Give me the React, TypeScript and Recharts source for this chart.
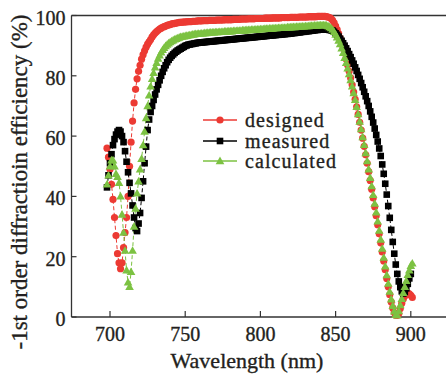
import React from 'react';
import { LineChart, Line, XAxis, YAxis, ReferenceLine, Label } from 'recharts';

// wavelength grid (nm), one row per 10 nm
const wavelengths = [
  698, 699, 700, 701, 702, 703, 704, 705, 706, 707,
  708, 709, 710, 711, 712, 713, 714, 715, 716, 717,
  718, 719, 720, 721, 722, 723, 724, 725, 726, 727,
  728, 729, 730, 731, 732, 733, 734, 735, 736, 737,
  738, 739, 740, 741, 742, 743, 744, 745, 746, 747,
  748, 749, 750, 751, 752, 753, 754, 755, 756, 757,
  758, 759, 760, 761, 762, 763, 764, 765, 766, 767,
  768, 769, 770, 771, 772, 773, 774, 775, 776, 777,
  778, 779, 780, 781, 782, 783, 784, 785, 786, 787,
  788, 789, 790, 791, 792, 793, 794, 795, 796, 797,
  798, 799, 800, 801, 802, 803, 804, 805, 806, 807,
  808, 809, 810, 811, 812, 813, 814, 815, 816, 817,
  818, 819, 820, 821, 822, 823, 824, 825, 826, 827,
  828, 829, 830, 831, 832, 833, 834, 835, 836, 837,
  838, 839, 840, 841, 842, 843, 844, 845, 846, 847,
  848, 849, 850, 851, 852, 853, 854, 855, 856, 857,
  858, 859, 860, 861, 862, 863, 864, 865, 866, 867,
  868, 869, 870, 871, 872, 873, 874, 875, 876, 877,
  878, 879, 880, 881, 882, 883, 884, 885, 886, 887,
  888, 889, 890, 891, 892, 893, 894, 895, 896, 897,
  898, 899, 900, 901,
];

const designed = [
  56, 53, 49, 44, 39, 33, 27, 21, 18, 16,
  18, 23, 28, 33, 40, 50, 58, 65, 71, 75.5,
  79, 81.5, 83.5, 85.5, 87, 88.3, 89.5, 90.5, 91.3, 92,
  92.9, 93.6, 94.2, 94.7, 95.1, 95.5, 95.8, 96.1, 96.3, 96.5,
  96.7, 96.9, 97, 97.2, 97.3, 97.4, 97.5, 97.6, 97.7, 97.7,
  97.8, 97.8, 97.9, 97.9, 98, 98, 98, 98.1, 98.1, 98.1,
  98.2, 98.2, 98.2, 98.2, 98.3, 98.3, 98.3, 98.3, 98.4, 98.4,
  98.4, 98.4, 98.4, 98.5, 98.5, 98.5, 98.5, 98.5, 98.6, 98.6,
  98.6, 98.6, 98.6, 98.6, 98.7, 98.7, 98.7, 98.7, 98.7, 98.8,
  98.8, 98.8, 98.8, 98.8, 98.9, 98.9, 98.9, 98.9, 98.9, 99,
  99, 99, 99, 99, 99, 99.1, 99.1, 99.1, 99.1, 99.1,
  99.2, 99.2, 99.2, 99.2, 99.2, 99.2, 99.3, 99.3, 99.3, 99.3,
  99.3, 99.3, 99.4, 99.4, 99.4, 99.4, 99.4, 99.4, 99.5, 99.5,
  99.5, 99.5, 99.5, 99.5, 99.6, 99.6, 99.6, 99.6, 99.6, 99.6,
  99.7, 99.7, 99.7, 99.7, 99.7, 99.7, 99.6, 99.5, 99.3, 99,
  98.4, 97.6, 96.5, 95.3, 94, 92.5, 91, 89.3, 87.5, 85.6,
  83.6, 81.5, 79.3, 77, 74.6, 72.2, 69.7, 67.2, 64.6, 62,
  59.3, 56.6, 53.8, 51, 48.2, 45.3, 42.4, 39.5, 36.6, 33.6,
  30.6, 27.6, 24.6, 21.6, 18.6, 15.7, 12.8, 10, 7.4, 5,
  3, 1.5, 0.6, 0.5, 1.2, 2.8, 4.6, 6, 7, 7.6,
  7.9, 7.7, 7.2, 6.5,
];

const measured = [
  43, 47, 51, 54, 57, 59, 60.5, 61.5, 62, 61.5,
  60, 58, 55, 51.5, 48, 44.5, 41, 37, 33, 29.5,
  28.5, 31, 34.5, 39.5, 45, 51, 56.5, 62, 65.5, 68,
  70, 72, 73.8, 75.5, 77, 78.5, 80, 81.3, 82.5, 83.5,
  84.5, 85.3, 86, 86.6, 87.1, 87.6, 88, 88.4, 88.7, 89,
  89.3, 89.6, 89.9, 90.1, 90.3, 90.4, 90.5, 90.6, 90.7, 90.8,
  90.9, 91, 91, 91.1, 91.1, 91.2, 91.2, 91.3, 91.3, 91.4,
  91.4, 91.5, 91.5, 91.6, 91.6, 91.7, 91.7, 91.8, 91.8, 91.9,
  91.9, 92, 92, 92.1, 92.1, 92.2, 92.2, 92.3, 92.3, 92.4,
  92.4, 92.5, 92.5, 92.6, 92.6, 92.7, 92.7, 92.8, 92.8, 92.9,
  92.9, 93, 93, 93.1, 93.1, 93.2, 93.2, 93.3, 93.3, 93.4,
  93.4, 93.5, 93.5, 93.6, 93.6, 93.7, 93.7, 93.8, 93.8, 93.9,
  93.9, 94, 94, 94.1, 94.2, 94.2, 94.3, 94.4, 94.4, 94.5,
  94.6, 94.6, 94.7, 94.8, 94.8, 94.9, 95, 95, 95.1, 95.2,
  95.2, 95.3, 95.3, 95.4, 95.4, 95.4, 95.4, 95.3, 95.2, 95.1,
  95, 94.6, 94.1, 93.6, 93, 92.3, 91.6, 90.8, 90, 89.1,
  88.2, 87.2, 86.2, 85.1, 84, 82.8, 81.6, 80.3, 79, 77.6,
  76.2, 74.7, 73.2, 71.6, 70, 68.2, 66.4, 64.5, 62.5, 60.4,
  58.2, 55.9, 53.4, 50.6, 47.5, 44.2, 40.6, 36.8, 32.9, 28.9,
  24.9, 21, 17.4, 14.3, 11.8, 9.9, 8.5, 7.8, 8.3, 9.5,
  11, 12.8, 14.3, null,
];

const calculated = [
  44, 47, 50, 52, 52, 50, 47.5, 46.5, 44.5, 40,
  34, 28, 22, 15.5, 11.5, 10, 15, 22, 30, 36,
  41, 45, 49, 52.5, 57, 61.5, 66, 70, 73.5, 76.5,
  79, 81, 82.8, 84.3, 85.7, 86.8, 87.8, 88.6, 89.3, 89.9,
  90.4, 90.8, 91.2, 91.5, 91.8, 92.1, 92.3, 92.5, 92.7, 92.9,
  93, 93.1, 93.2, 93.3, 93.4, 93.5, 93.6, 93.7, 93.8, 93.9,
  93.9, 94, 94, 94.1, 94.1, 94.2, 94.2, 94.3, 94.3, 94.4,
  94.4, 94.4, 94.5, 94.5, 94.5, 94.6, 94.6, 94.6, 94.7, 94.7,
  94.7, 94.8, 94.8, 94.8, 94.9, 94.9, 94.9, 95, 95, 95,
  95.1, 95.1, 95.1, 95.2, 95.2, 95.2, 95.3, 95.3, 95.3, 95.4,
  95.4, 95.4, 95.5, 95.5, 95.5, 95.6, 95.6, 95.6, 95.7, 95.7,
  95.7, 95.8, 95.8, 95.8, 95.9, 95.9, 95.9, 96, 96, 96,
  96.1, 96.1, 96.1, 96.2, 96.2, 96.2, 96.3, 96.3, 96.3, 96.4,
  96.4, 96.4, 96.5, 96.5, 96.5, 96.6, 96.6, 96.6, 96.7, 96.7,
  96.7, 96.8, 96.8, 96.8, 96.8, 96.8, 96.7, 96.5, 96.2, 95.8,
  95.3, 94.6, 93.7, 92.8, 91.7, 90.5, 89.1, 87.6, 86, 84.3,
  82.5, 80.6, 78.6, 76.5, 74.3, 72, 69.7, 67.3, 64.8, 62.3,
  59.7, 57.1, 54.4, 51.7, 49, 46.2, 43.4, 40.5, 37.6, 34.7,
  31.7, 28.7, 25.7, 22.7, 19.7, 16.8, 13.9, 11.1, 8.4, 5.9,
  3.7, 1.9, 0.7, 0.6, 2, 4, 6, 8, 10, 12,
  14, 15.5, 17, 17.8,
];

const xTicks = [700, 750, 800, 850, 900];
const yTicks = [0, 20, 40, 60, 80, 100];
const legendNames = ['designed', 'measured', 'calculated'];

const RED = '#ec3a33';
const BLACK = '#000000';
const GREEN = '#7cc242';
const AXIS = '#333333';
const TEXT = '#231f20';
const FONT = 'Liberation Serif, Times New Roman, Times, serif';

const data = wavelengths.map((wl, i) => ({
  wl,
  designed: designed[i],
  measured: measured[i],
  calculated: calculated[i],
}));

const bad = (p: any) => p.cx == null || p.cy == null || isNaN(p.cx) || isNaN(p.cy) || p.value == null;

const circleDot = (p: any) =>
  bad(p) ? <g key={`c${p.index}`} /> : <circle key={`c${p.index}`} cx={p.cx} cy={p.cy} r={3.6} fill={RED} />;

const squareDot = (p: any) =>
  bad(p) ? <g key={`s${p.index}`} /> : <rect key={`s${p.index}`} x={p.cx - 3.3} y={p.cy - 3.3} width={6.6} height={6.6} fill={BLACK} />;

const triPoints = (cx: number, cy: number) => `${cx},${cy - 4.4} ${cx + 4.3},${cy + 3.2} ${cx - 4.3},${cy + 3.2}`;

const triangleDot = (p: any) =>
  bad(p) ? <g key={`t${p.index}`} /> : <polygon key={`t${p.index}`} points={triPoints(p.cx, p.cy)} fill={GREEN} />;

// serif text a little heavier, like the original's typeface
const textStyle = { fontFamily: FONT, stroke: TEXT, strokeWidth: 0.35 };

const XTick = ({ x, y, payload }: any) => (
  <g>
    <line x1={x} x2={x} y1={y} y2={y - 6} stroke={AXIS} strokeWidth={1.2} />
    <text x={x} y={y + 24} textAnchor="middle" fontSize={20} style={textStyle} fill={TEXT}>
      {payload.value}
    </text>
  </g>
);

const YTick = ({ x, y, payload }: any) => (
  <g>
    <line x1={x} x2={x + 5} y1={y} y2={y} stroke={AXIS} strokeWidth={1.2} />
    <text x={x - 6} y={y + 9} textAnchor="end" fontSize={20} style={textStyle} fill={TEXT}>
      {payload.value}
    </text>
  </g>
);

const legendMarker = (i: number) => {
  if (i === 0) return <circle cx={20} cy={10} r={3.6} fill={RED} />;
  if (i === 1) return <rect x={16.7} y={6.7} width={6.6} height={6.6} fill={BLACK} />;
  return <polygon points={triPoints(20, 10)} fill={GREEN} />;
};

const legendColors = [RED, BLACK, GREEN];

const LegendBox = () => (
  <div style={{ position: 'absolute', left: 200, top: 110, fontFamily: FONT, color: TEXT }}>
    {legendNames.map((name, i) => (
      <div key={name} style={{ display: 'flex', alignItems: 'center', height: 20.5 }}>
        <svg width={40} height={20} style={{ display: 'block' }}>
          <line x1={3} x2={37} y1={10} y2={10} stroke={legendColors[i]} strokeWidth={1.5} />
          {legendMarker(i)}
        </svg>
        <span
          style={{
            marginLeft: 5,
            fontSize: 20,
            lineHeight: '18px',
            letterSpacing: 1.1,
            WebkitTextStroke: '0.35px #231f20',
          }}
        >
          {name}
        </span>
      </div>
    ))}
  </div>
);

export default function App() {
  return (
    <div style={{ position: 'absolute', left: 0, top: 0, width: 446, height: 377, background: '#fff' }}>
      <LineChart width={446} height={377} data={data} margin={{ top: 15.5, right: 0, bottom: 30, left: 11.5 }}>
        <XAxis
          type="number"
          dataKey="wl"
          domain={[674.4, 923.4]}
          ticks={xTicks}
          allowDataOverflow
          height={30}
          tickSize={0}
          tickMargin={0}
          tickLine={false}
          tick={<XTick />}
          axisLine={{ stroke: AXIS, strokeWidth: 1.3 }}
        >
          <Label
            content={() => (
              <text x={247} y={368} textAnchor="middle" fontSize={22} style={textStyle} fill={TEXT}>
                Wavelength (nm)
              </text>
            )}
          />
        </XAxis>
        <YAxis
          type="number"
          domain={[0, 100]}
          ticks={yTicks}
          width={60}
          tickSize={0}
          tickMargin={0}
          tickLine={false}
          tick={<YTick />}
          axisLine={{ stroke: AXIS, strokeWidth: 1.3 }}
        >
          <Label
            content={() => (
              <text
                x={27}
                y={182}
                transform="rotate(-90 27 182)"
                textAnchor="middle"
                fontSize={23}
                style={textStyle}
                fill={TEXT}
              >
                -1st order diffractioin efficiency (%)
              </text>
            )}
          />
        </YAxis>
        <ReferenceLine y={100} stroke={AXIS} strokeWidth={1.3} ifOverflow="visible" />
        <Line
          type="linear"
          dataKey="designed"
          stroke={RED}
          strokeWidth={1}
          strokeDasharray="4 2.5"
          dot={circleDot}
          activeDot={false}
          isAnimationActive={false}
        />
        <Line
          type="linear"
          dataKey="measured"
          stroke={BLACK}
          strokeWidth={1}
          strokeDasharray="4 2.5"
          dot={squareDot}
          activeDot={false}
          isAnimationActive={false}
        />
        <Line
          type="linear"
          dataKey="calculated"
          stroke={GREEN}
          strokeWidth={1}
          strokeDasharray="4 2.5"
          dot={triangleDot}
          activeDot={false}
          isAnimationActive={false}
        />
      </LineChart>
      <LegendBox />
    </div>
  );
}
